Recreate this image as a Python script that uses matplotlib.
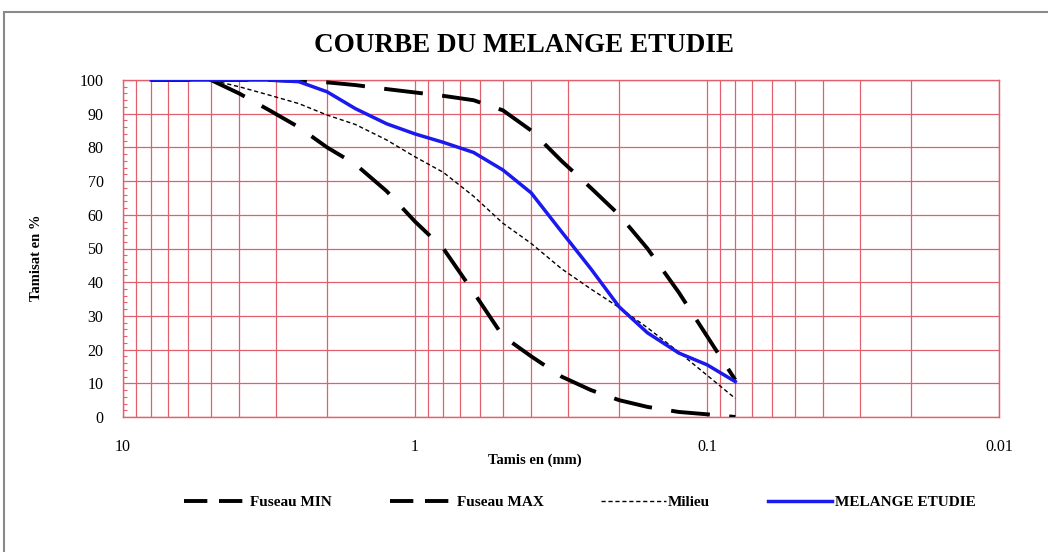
import matplotlib
matplotlib.use("Agg")
import matplotlib.pyplot as plt
import matplotlib.patches as mpatches
from matplotlib.lines import Line2D
from matplotlib.ticker import FixedLocator, NullFormatter

plt.rcParams["font.family"] = ["Liberation Serif", "DejaVu Serif"]

# Tamis (mm) et tamisats (%)
tamis = [8, 6.3, 5, 4, 3.15, 2.5, 2, 1.6, 1.25, 1, 0.8, 0.63, 0.5, 0.4,
         0.315, 0.25, 0.2, 0.16, 0.125, 0.1, 0.08]
fuseau_min = [100, 100, 100, 96, 91, 86, 80, 75, 67, 58, 50, 37, 24, 18,
              12, 8, 5, 3, 1.5, 0.8, 0]
fuseau_max = [100, 100, 100, 100, 100, 99.7, 99.3, 98.5, 97.3, 96.3, 95.3, 94, 91, 85,
              76, 68, 60, 50, 37, 24, 11]
milieu = [100, 100, 100, 98, 95.5, 93, 89.6, 86.8, 82.2, 77.2, 72.6, 65.5, 57.5, 51.5,
          44, 38, 32.5, 26.5, 19.3, 12.4, 5.5]
melange = [100, 100, 100, 100, 100, 99.5, 96.5, 91.5, 87, 84, 81.5, 78.5, 73.3, 66.5,
           55, 44, 32.7, 25, 19, 15.5, 10.5]

x_ticks = [10, 1, 0.1, 0.01]
x_labels = ["10", "1", "0.1", "0.01"]
y_ticks = list(range(0, 101, 10))

GRID = "#e2606e"

fig = plt.figure(figsize=(10.48, 5.52), dpi=100)
fig.patch.set_facecolor("white")

# cadre gris autour du graphique
fig.patches.append(mpatches.Rectangle((4 / 1048, -0.01), 1.05, 1 - 12 / 552 + 0.01,
                                      transform=fig.transFigure, fill=False,
                                      edgecolor="#8a8a8a", linewidth=1.5))

ax = fig.add_axes([123 / 1048, 1 - 417 / 552, 876 / 1048, 337 / 552])
ax.set_xscale("log")
ax.set_xlim(10, 0.01)
ax.set_ylim(0, 100)

ax.xaxis.set_major_locator(FixedLocator(x_ticks))
ax.set_xticklabels(x_labels)
minors = [m * d for d in (0.01, 0.1, 1) for m in range(2, 10)]
ax.xaxis.set_minor_locator(FixedLocator(minors))
ax.xaxis.set_minor_formatter(NullFormatter())
ax.set_yticks(y_ticks)
ax.yaxis.set_minor_locator(FixedLocator(range(0, 101, 2)))

ax.grid(True, which="both", axis="x", color=GRID, linewidth=0.9, zorder=0)
ax.grid(True, which="major", axis="y", color=GRID, linewidth=0.9, zorder=0)
ax.set_axisbelow(True)
for sp in ax.spines.values():
    sp.set_color(GRID)
    sp.set_linewidth(1.0)

ax.tick_params(axis="x", which="both", length=0, pad=16, labelsize=11.5)
ax.tick_params(axis="y", which="major", length=0, pad=14, labelsize=11.5)
ax.tick_params(axis="y", which="minor", direction="in", length=3, color=GRID, width=0.8)

ax.plot(tamis, fuseau_max, color="black", linewidth=2.8, dashes=(10, 5), zorder=3)
ax.plot(tamis, fuseau_min, color="black", linewidth=2.8, dashes=(10, 5), zorder=3)
ax.plot(tamis, milieu, color="black", linewidth=1.0, dashes=(3, 2), zorder=4)
ax.plot(tamis, melange, color="#1a1aee", linewidth=2.5, zorder=5)

fig.text(0.50, 1 - 46 / 552, "COURBE DU MELANGE ETUDIE", ha="center", va="center",
         fontsize=19.5, fontweight="bold")
fig.text(535 / 1048, 1 - 460 / 552, "Tamis en (mm)", ha="center", va="center",
         fontsize=10.5, fontweight="bold")
fig.text(36 / 1048, 1 - 258 / 552, "Tamisat en %", ha="center", va="center",
         rotation=90, fontsize=10.5, fontweight="bold")

handles = [
    Line2D([], [], color="black", linewidth=2.8, dashes=(6, 3)),
    Line2D([], [], color="black", linewidth=2.8, dashes=(6, 3)),
    Line2D([], [], color="black", linewidth=1.0, dashes=(3, 2)),
    Line2D([], [], color="#1a1aee", linewidth=2.5),
]
labels = ["Fuseau MIN", "Fuseau MAX", "Milieu", "MELANGE ETUDIE"]
fig.legend(handles, labels, loc="center", bbox_to_anchor=(0.553, 1 - 502 / 552),
           ncol=4, frameon=False, handlelength=4.2, handletextpad=0.15,
           columnspacing=3.8, prop={"weight": "bold", "size": 11})

fig.savefig("out.png", dpi=100, facecolor="white")
